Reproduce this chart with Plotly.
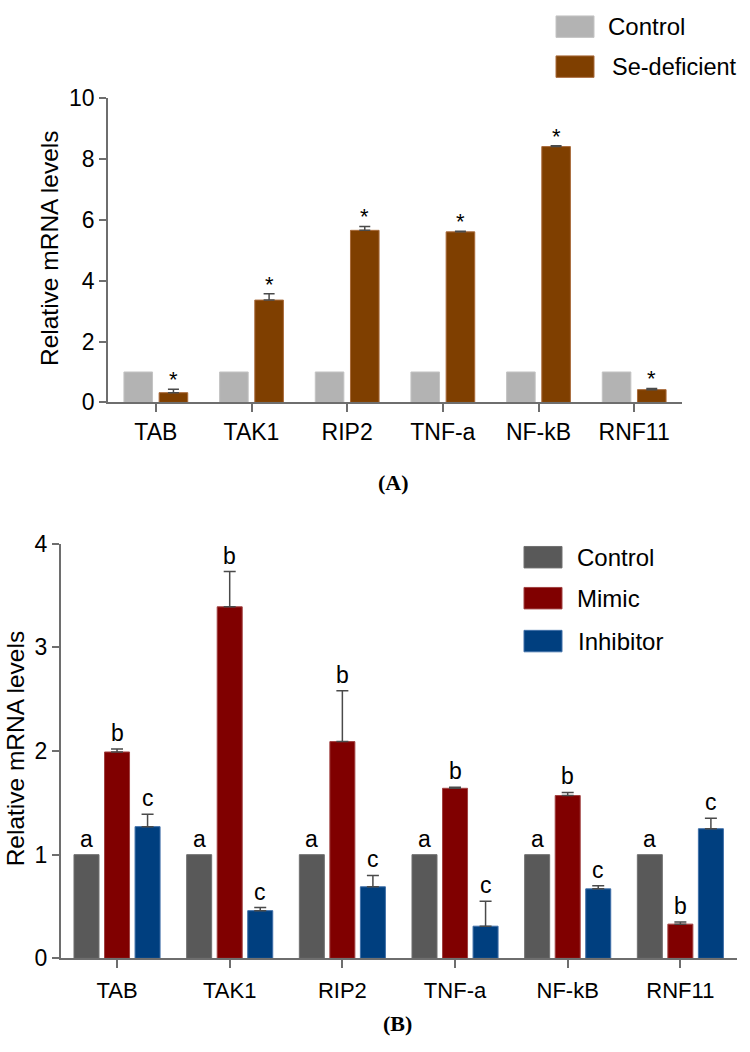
import plotly.graph_objects as go

# ---------------- data ----------------
genes = ["TAB", "TAK1", "RIP2", "TNF-a", "NF-kB", "RNF11"]

# Panel A
a_control = [1, 1, 1, 1, 1, 1]
a_control_err = [0, 0, 0, 0, 0, 0]
a_sedef = [0.32, 3.36, 5.65, 5.60, 8.40, 0.42]
a_sedef_err = [0.11, 0.21, 0.13, 0.02, 0.03, 0.04]
a_sig = ["", "*"]  # significance mark per series

# Panel B
b_control = [1, 1, 1, 1, 1, 1]
b_control_err = [0, 0, 0, 0, 0, 0]
b_mimic = [1.99, 3.39, 2.09, 1.64, 1.57, 0.33]
b_mimic_err = [0.03, 0.34, 0.49, 0.01, 0.03, 0.02]
b_inhib = [1.27, 0.46, 0.69, 0.31, 0.67, 1.25]
b_inhib_err = [0.12, 0.03, 0.11, 0.24, 0.03, 0.10]
b_letters = ["a", "b", "c"]

a_names = ["Control", "Se-deficient"]
b_names = ["Control", "Mimic", "Inhibitor"]

# ---------------- style ----------------
W, H = 750, 1052
FONT = "Liberation Sans, Arial, sans-serif"
SERIF = "Liberation Serif, Times New Roman, serif"
AXC = "#6e6e6e"
ERRC = "#4a4a4a"

a_colors = ["#b3b3b3", "#7f3f00"]
a_lines = ["#c4c4c4", "#a86a3a"]
b_colors = ["#595959", "#800000", "#003f7f"]
b_lines = ["#707070", "#a04040", "#3f6fa8"]


def px(x):
    return x / W


def py(y):
    return 1 - y / H


fig = go.Figure()

# ---------------- panel A ----------------
a_series = [(a_control, a_control_err), (a_sedef, a_sedef_err)]
a_step, a_width = 0.368, 0.299
for k, ((vals, errs), name) in enumerate(zip(a_series, a_names)):
    off = (k - (len(a_series) - 1) / 2) * a_step
    xs = [i + off for i in range(len(genes))]
    show_err = k > 0
    fig.add_trace(go.Bar(
        x=xs, y=vals, width=a_width, name=name, showlegend=False,
        marker=dict(color=a_colors[k], line=dict(color=a_lines[k], width=1)),
        error_y=dict(type="data", symmetric=False, array=errs,
                     arrayminus=[0] * len(errs), visible=show_err,
                     color=ERRC, thickness=1.5, width=5.5),
        xaxis="x", yaxis="y",
    ))
    if a_sig[k]:
        for x, v, e in zip(xs, vals, errs):
            fig.add_annotation(x=x, y=v + e, xref="x", yref="y", text=a_sig[k],
                               showarrow=False, yanchor="bottom", yshift=-5,
                               font=dict(family=FONT, size=22, color="#000"))

# ---------------- panel B ----------------
b_series = [(b_control, b_control_err), (b_mimic, b_mimic_err), (b_inhib, b_inhib_err)]
b_step, b_width = 0.271, 0.222
for k, ((vals, errs), name) in enumerate(zip(b_series, b_names)):
    off = (k - (len(b_series) - 1) / 2) * b_step
    xs = [i + off for i in range(len(genes))]
    show_err = k > 0
    fig.add_trace(go.Bar(
        x=xs, y=vals, width=b_width, name=name, showlegend=False,
        marker=dict(color=b_colors[k], line=dict(color=b_lines[k], width=1)),
        error_y=dict(type="data", symmetric=False, array=errs,
                     arrayminus=[0] * len(errs), visible=show_err,
                     color=ERRC, thickness=1.5, width=6),
        xaxis="x2", yaxis="y2",
    ))
    for x, v, e in zip(xs, vals, errs):
        fig.add_annotation(x=x, y=v + e, xref="x2", yref="y2", text=b_letters[k],
                           showarrow=False, yanchor="bottom", yshift=1,
                           font=dict(family=FONT, size=23, color="#000"))

# ---------------- manual legends ----------------
def legend_item(x0, y0, x1, y1, color, line, label, tx, size=24):
    fig.add_shape(type="rect", xref="paper", yref="paper",
                  x0=px(x0), x1=px(x1), y0=py(y1), y1=py(y0),
                  fillcolor=color, line=dict(color=line, width=1))
    fig.add_annotation(xref="paper", yref="paper", x=px(tx), y=py((y0 + y1) / 2),
                       text=label, showarrow=False, xanchor="left", yanchor="middle",
                       font=dict(family=FONT, size=size, color="#000"))

legend_item(556, 3, 594, 25, a_colors[0], a_lines[0], a_names[0], 606)
legend_item(556, 44, 594, 66, a_colors[1], a_lines[1], a_names[1], 610, size=23.5)

legend_item(524, 547, 562, 569, b_colors[0], b_lines[0], b_names[0], 575)
legend_item(524, 589, 562, 611, b_colors[1], b_lines[1], b_names[1], 575)
legend_item(524, 633, 562, 655, b_colors[2], b_lines[2], b_names[2], 576)

# ---------------- axis titles and panel labels ----------------
ytitle = "Relative mRNA levels"
fig.add_annotation(xref="paper", yref="paper", x=px(49), y=py(241), text=ytitle,
                   textangle=-90, showarrow=False, xanchor="center", yanchor="middle",
                   font=dict(family=FONT, size=24.5, color="#000"))
fig.add_annotation(xref="paper", yref="paper", x=px(15), y=py(754), text=ytitle,
                   textangle=-90, showarrow=False, xanchor="center", yanchor="middle",
                   font=dict(family=FONT, size=24.5, color="#000"))
fig.add_annotation(xref="paper", yref="paper", x=px(393), y=py(481), text="<b>(A)</b>",
                   showarrow=False, xanchor="center", yanchor="middle",
                   font=dict(family=SERIF, size=22, color="#000"))
fig.add_annotation(xref="paper", yref="paper", x=px(398), y=py(1036), text="<b>(B)</b>",
                   showarrow=False, xanchor="center", yanchor="middle",
                   font=dict(family=SERIF, size=22, color="#000"))

# ---------------- axes ----------------
common_x = dict(range=[-0.5, len(genes) - 0.5], tickmode="array",
                tickvals=list(range(len(genes))), ticktext=genes,
                showline=True, linecolor=AXC, linewidth=1.5,
                ticks="outside", ticklen=8, tickwidth=1.5, tickcolor=AXC,
                showgrid=False, zeroline=False, fixedrange=True)
common_y = dict(showline=True, linecolor=AXC, linewidth=1.5,
                ticks="outside", ticklen=7, tickwidth=1.5, tickcolor=AXC,
                showgrid=False, zeroline=False, fixedrange=True)

fig.update_layout(
    width=W, height=H,
    margin=dict(l=0, r=0, t=0, b=0),
    paper_bgcolor="white", plot_bgcolor="white",
    showlegend=False,
    xaxis=dict(domain=[px(108), px(682)], anchor="y",
               tickfont=dict(family=FONT, size=23, color="#000"), **common_x),
    yaxis=dict(domain=[py(399.3), py(87)], anchor="x", range=[0, 10], dtick=2,
               tickfont=dict(family=FONT, size=23, color="#000"), **common_y),
    xaxis2=dict(domain=[px(60.7), px(736.7)], anchor="y2",
                tickfont=dict(family=FONT, size=22, color="#000"),
                ticklabelstandoff=4, **common_x),
    yaxis2=dict(domain=[py(969.3), py(544)], anchor="x2", range=[0, 4], dtick=1,
                tickfont=dict(family=FONT, size=23, color="#000"), **common_y),
)

fig.write_html("out.html", config={"displayModeBar": False},
               post_script="document.body.style.margin='0px';")
